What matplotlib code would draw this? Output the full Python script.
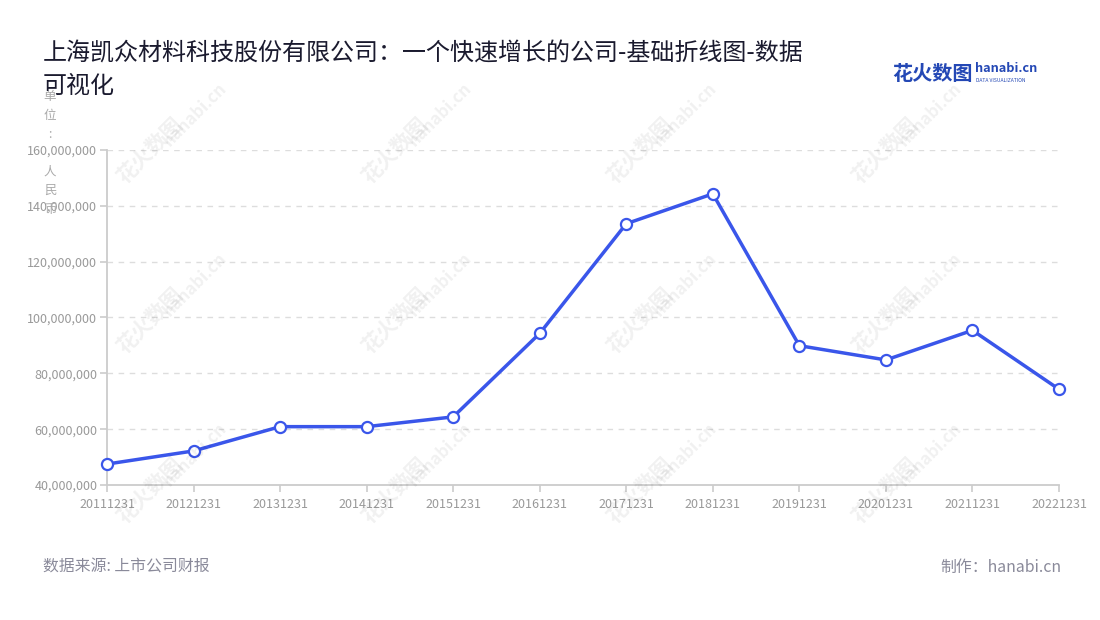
import matplotlib
matplotlib.use("Agg")
import matplotlib.pyplot as plt
import matplotlib.ticker as mticker

plt.rcParams["font.family"] = ["Noto Sans CJK SC", "DejaVu Sans"]

dates = ["20111231", "20121231", "20131231", "20141231", "20151231", "20161231",
         "20171231", "20181231", "20191231", "20201231", "20211231", "20221231"]
revenue = [47.5e6, 52.2e6, 60.9e6, 60.9e6, 64.4e6, 94.3e6,
           133.6e6, 144.3e6, 89.9e6, 84.8e6, 95.4e6, 74.3e6]
y_ticks = [40e6, 60e6, 80e6, 100e6, 120e6, 140e6, 160e6]

title = "上海凯众材料科技股份有限公司：一个快速增长的公司-基础折线图-数据\n可视化"
unit_label = "单\n位\n:\n \n人\n民\n币"
source = "数据来源: 上市公司财报"
credit = "制作：hanabi.cn"

W, H = 1100, 620
fig = plt.figure(figsize=(11, 6.2), dpi=100)
ax = fig.add_axes([107 / W, 1 - 485 / H, (1059 - 107) / W, (485 - 150) / H])

# faint watermark grid
for wx in [150, 395, 640, 885]:
    for wy in [150, 320, 490]:
        for dx, dy, txt, fs in [(0, 0, "花火数图", 15), (45, -35, "hanabi.cn", 12)]:
            fig.text((wx + dx) / W, 1 - (wy + dy) / H, txt, fontsize=fs,
                     color="#000000", alpha=0.06, rotation=45, fontweight="bold",
                     ha="center", va="center")

x = list(range(len(dates)))
ax.plot(x, revenue, color="#3a56ea", linewidth=2.5, marker="o", markersize=8,
        markerfacecolor="white", markeredgecolor="#3a56ea", markeredgewidth=1.6,
        zorder=3, clip_on=False)

ax.set_xlim(0, len(dates) - 1)
ax.set_ylim(40e6, 160e6)
ax.set_xticks(x)
ax.set_xticklabels(dates)
ax.set_yticks(y_ticks)
ax.yaxis.set_major_formatter(mticker.FuncFormatter(lambda v, p: f"{v:,.0f}"))

ax.grid(axis="y", color="#dddddd", linestyle=(0, (4, 4)), linewidth=1)
ax.set_axisbelow(True)
for s in ["top", "right"]:
    ax.spines[s].set_visible(False)
for s in ["left", "bottom"]:
    ax.spines[s].set_color("#cccccc")
    ax.spines[s].set_linewidth(1.3)
ax.tick_params(axis="both", colors="#cccccc", labelcolor="#999999",
               labelsize=9, length=5, width=1.2)
ax.tick_params(axis="x", pad=4)
ax.tick_params(axis="y", pad=2)

fig.text(50 / W, 1 - 90 / H, unit_label, fontsize=9, color="#aaaaaa",
         ha="center", va="top", linespacing=1.58)

fig.text(43 / W, 1 - 41 / H, title, fontsize=17.3, color="#1a1a2e",
         ha="left", va="top", linespacing=1.32)

fig.text(43 / W, 1 - 567 / H, source, fontsize=11.4, color="#8a8a9a",
         ha="left", va="center")
fig.text(1061 / W, 1 - 567 / H, credit, fontsize=11.4, color="#8a8a9a",
         ha="right", va="center")

# logo
fig.text(892 / W, 1 - 73 / H, "花火数图", fontsize=14.5, color="#2448b5",
         fontweight="bold", ha="left", va="center")
fig.text(975 / W, 1 - 69 / H, "hanabi.cn", fontsize=9.2, color="#2448b5",
         fontweight="bold", ha="left", va="center")
fig.text(976 / W, 1 - 80 / H, "DATA VISUALIZATION", fontsize=3.6, color="#2448b5",
         ha="left", va="center")

fig.savefig("out.png", dpi=100)
